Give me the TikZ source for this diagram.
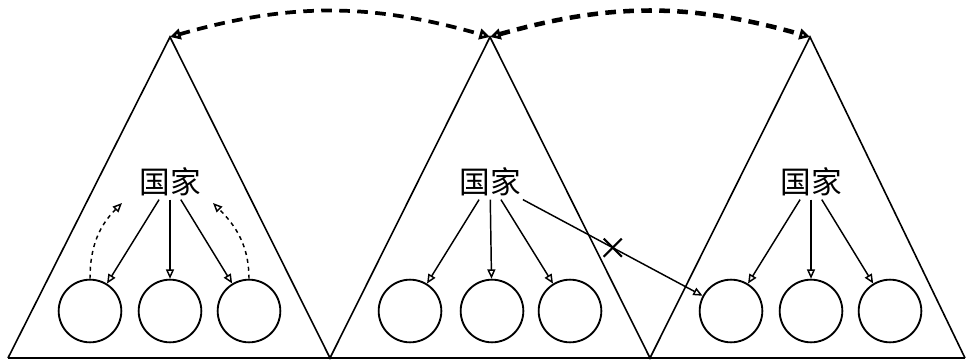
\documentclass[tikz,border=0pt]{standalone}
\usepackage{fontspec}
\usepackage{tikz}
\usetikzlibrary{
    positioning,
    arrows.meta,
    shapes.misc
}
\newfontfamily\cjk{Noto Sans CJK SC}
\tikzset{
    >={Triangle[open,length=7pt,width=6pt]},
    pais/.style={
        font=\cjk\fontsize{23}{23}\selectfont,
        inner sep=2pt
    },
    hoja/.style={
        circle,
        draw,
        line width=1.4pt,
        minimum size=47pt,
        inner sep=0pt
    },
    enlace/.style={
        dashed,
        dash pattern=on 8pt off 5.5pt,
        {Triangle[open,length=8pt,width=8pt]}-{Triangle[open,length=8pt,width=8pt]}
    }
}

\begin{document}
\begin{tikzpicture}[
    x=0.75pt,
    y=0.75pt,
    line width=1.1pt
]
    \useasboundingbox (0,0) rectangle (966,361);

    % Triangulos
    \coordinate (b0) at (8,3);
    \coordinate (b1) at (330,3);
    \coordinate (b2) at (650,3);
    \coordinate (b3) at (965,3);
    \coordinate (a1) at (170,324);
    \coordinate (a2) at (490,324);
    \coordinate (a3) at (810,324);
    \draw[line width=1.2pt] (b0) -- (a1) -- (b1) -- (a2) -- (b2) -- (a3) -- (b3);
    \draw[line width=1.8pt] (b0) -- (b3);

    % Paises
    \node[pais] (p1) at (170,179) {国家};
    \node[pais] (p2) at (490,179) {国家};
    \node[pais] (p3) at (811,179) {国家};

    % Hojas
    \node[hoja] (h11) at (90,50)  {};
    \node[hoja] (h12) at (170,50) {};
    \node[hoja] (h13) at (249,50) {};
    \node[hoja] (h21) at (410,50) {};
    \node[hoja] (h22) at (492,50) {};
    \node[hoja] (h23) at (570,50) {};
    \node[hoja] (h31) at (731,50) {};
    \node[hoja] (h32) at (811,50) {};
    \node[hoja] (h33) at (890,50) {};

    % Aristas
    \path[->]

        % p1
        (p1)
            edge (h11)
            edge (h12)
            edge (h13)

        % p2
        (p2)
            edge (h21)
            edge (h22)
            edge (h23)
            edge node[
                pos=0.5,
                cross out,
                draw,
                line width=1.6pt,
                minimum size=12pt
            ] {} (h31)

        % p3
        (p3)
            edge (h31)
            edge (h32)
            edge (h33);

    % Vuelta al padre
    \coordinate (k1) at (122,158);
    \coordinate (k2) at (213,158);
    \draw[->, dashed] (h11.north) to[out=90, in=225] (k1);
    \draw[->, dashed] (h13.north) to[out=90, in=-45] (k2);

    % Enlaces entre raices
    \draw[enlace, line width=2.8pt] (a1) to[bend left=16] (a2);
    \draw[enlace, line width=3.4pt] (a2) to[bend left=16] (a3);

\end{tikzpicture}
\end{document}
